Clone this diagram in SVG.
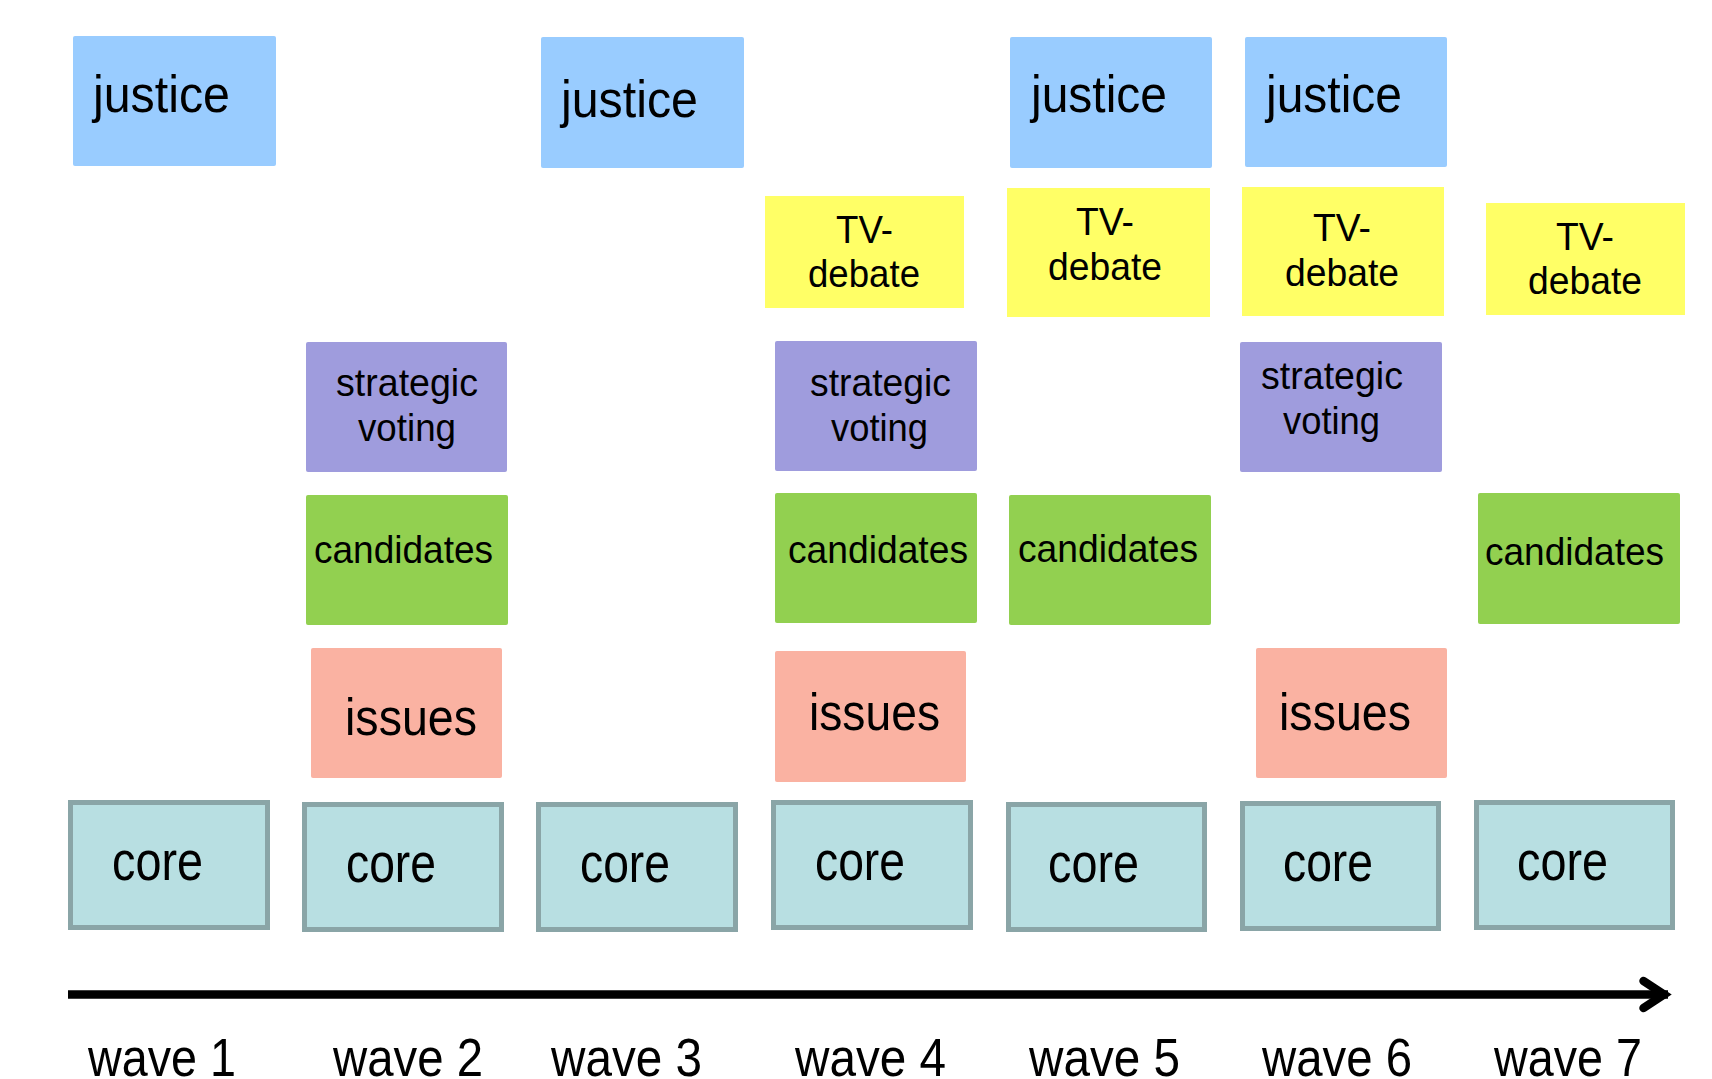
<svg xmlns="http://www.w3.org/2000/svg" width="1712" height="1079" viewBox="0 0 1712 1079">
<style>
  .box { stroke: none; }
  .justice { fill: #99CCFF; }
  .tv { fill: #FFFF66; }
  .strat { fill: #9F9CDD; }
  .cand { fill: #92D050; }
  .issues { fill: #FAB2A2; }
  .core { fill: #B8DFE2; stroke: #8AA5A7; stroke-width: 5; }
  text { font-family: "Liberation Sans", Arial, Helvetica, sans-serif; fill: #000; }
  .big { font-size: 52px; }
  .core-t { font-size: 56px; }
  .mid { font-size: 39px; }
  .wave { font-size: 53px; }
  .axis { stroke: #000; stroke-width: 8.5; fill: none; }
</style>
<rect width="1712" height="1079" fill="#FFFFFF"/>

<g id="justice-1"><rect class="box justice" x="73" y="36" width="203" height="130" rx="2"/><text class="big" x="93" y="112" textLength="137" lengthAdjust="spacingAndGlyphs">justice</text></g>
<g id="justice-3"><rect class="box justice" x="541" y="37" width="203" height="131" rx="2"/><text class="big" x="561" y="117" textLength="137" lengthAdjust="spacingAndGlyphs">justice</text></g>
<g id="justice-5"><rect class="box justice" x="1010" y="37" width="202" height="131" rx="2"/><text class="big" x="1031" y="112" textLength="136" lengthAdjust="spacingAndGlyphs">justice</text></g>
<g id="justice-6"><rect class="box justice" x="1245" y="37" width="202" height="130" rx="2"/><text class="big" x="1266" y="112" textLength="136" lengthAdjust="spacingAndGlyphs">justice</text></g>

<g id="tv-4"><rect class="box tv" x="765" y="196" width="199" height="112"/><text class="mid" x="836" y="243" textLength="57" lengthAdjust="spacingAndGlyphs">TV-</text><text class="mid" x="808" y="287" textLength="112" lengthAdjust="spacingAndGlyphs">debate</text></g>
<g id="tv-5"><rect class="box tv" x="1007" y="188" width="203" height="129"/><text class="mid" x="1076" y="235" textLength="58" lengthAdjust="spacingAndGlyphs">TV-</text><text class="mid" x="1048" y="280" textLength="114" lengthAdjust="spacingAndGlyphs">debate</text></g>
<g id="tv-6"><rect class="box tv" x="1242" y="187" width="202" height="129"/><text class="mid" x="1313" y="241" textLength="58" lengthAdjust="spacingAndGlyphs">TV-</text><text class="mid" x="1285" y="286" textLength="114" lengthAdjust="spacingAndGlyphs">debate</text></g>
<g id="tv-7"><rect class="box tv" x="1486" y="203" width="199" height="112"/><text class="mid" x="1556" y="250" textLength="58" lengthAdjust="spacingAndGlyphs">TV-</text><text class="mid" x="1528" y="294" textLength="114" lengthAdjust="spacingAndGlyphs">debate</text></g>

<g id="strategic-2"><rect class="box strat" x="306" y="342" width="201" height="130" rx="2"/><text class="mid" x="336" y="396" textLength="142" lengthAdjust="spacingAndGlyphs">strategic</text><text class="mid" x="358" y="441" textLength="98" lengthAdjust="spacingAndGlyphs">voting</text></g>
<g id="strategic-4"><rect class="box strat" x="775" y="341" width="202" height="130" rx="2"/><text class="mid" x="810" y="396" textLength="141" lengthAdjust="spacingAndGlyphs">strategic</text><text class="mid" x="831" y="441" textLength="97" lengthAdjust="spacingAndGlyphs">voting</text></g>
<g id="strategic-6"><rect class="box strat" x="1240" y="342" width="202" height="130" rx="2"/><text class="mid" x="1261" y="389" textLength="142" lengthAdjust="spacingAndGlyphs">strategic</text><text class="mid" x="1283" y="434" textLength="97" lengthAdjust="spacingAndGlyphs">voting</text></g>

<g id="candidates-2"><rect class="box cand" x="306" y="495" width="202" height="130" rx="2"/><text class="mid" x="314" y="563" textLength="179" lengthAdjust="spacingAndGlyphs">candidates</text></g>
<g id="candidates-4"><rect class="box cand" x="775" y="493" width="202" height="130" rx="2"/><text class="mid" x="788" y="563" textLength="180" lengthAdjust="spacingAndGlyphs">candidates</text></g>
<g id="candidates-5"><rect class="box cand" x="1009" y="495" width="202" height="130" rx="2"/><text class="mid" x="1018" y="562" textLength="180" lengthAdjust="spacingAndGlyphs">candidates</text></g>
<g id="candidates-7"><rect class="box cand" x="1478" y="493" width="202" height="131" rx="2"/><text class="mid" x="1485" y="565" textLength="179" lengthAdjust="spacingAndGlyphs">candidates</text></g>

<g id="issues-2"><rect class="box issues" x="311" y="648" width="191" height="130" rx="2"/><text class="big" x="345" y="735" textLength="132" lengthAdjust="spacingAndGlyphs">issues</text></g>
<g id="issues-4"><rect class="box issues" x="775" y="651" width="191" height="131" rx="2"/><text class="big" x="809" y="730" textLength="131" lengthAdjust="spacingAndGlyphs">issues</text></g>
<g id="issues-6"><rect class="box issues" x="1256" y="648" width="191" height="130" rx="2"/><text class="big" x="1279" y="730" textLength="132" lengthAdjust="spacingAndGlyphs">issues</text></g>

<g id="core-1"><rect class="core" x="70.5" y="802.5" width="197" height="125"/><text class="core-t" x="112" y="879.5" textLength="91" lengthAdjust="spacingAndGlyphs">core</text></g>
<g id="core-2"><rect class="core" x="304.5" y="804.5" width="197" height="125"/><text class="core-t" x="346" y="882" textLength="90" lengthAdjust="spacingAndGlyphs">core</text></g>
<g id="core-3"><rect class="core" x="538.5" y="804.5" width="197" height="125"/><text class="core-t" x="580" y="882" textLength="90" lengthAdjust="spacingAndGlyphs">core</text></g>
<g id="core-4"><rect class="core" x="773.5" y="802.5" width="197" height="125"/><text class="core-t" x="815" y="879.5" textLength="90" lengthAdjust="spacingAndGlyphs">core</text></g>
<g id="core-5"><rect class="core" x="1008.5" y="804.5" width="196" height="125"/><text class="core-t" x="1048" y="881.5" textLength="91" lengthAdjust="spacingAndGlyphs">core</text></g>
<g id="core-6"><rect class="core" x="1242.5" y="803.5" width="196" height="125"/><text class="core-t" x="1283" y="880.5" textLength="90" lengthAdjust="spacingAndGlyphs">core</text></g>
<g id="core-7"><rect class="core" x="1476.5" y="802.5" width="196" height="125"/><text class="core-t" x="1517" y="880" textLength="91" lengthAdjust="spacingAndGlyphs">core</text></g>

<g id="connectors">
  <line class="axis" x1="68" y1="994.5" x2="1668" y2="994.5"/>
  <polyline class="axis" points="1643.5,981 1664,994.5 1643.5,1008" stroke-linecap="round" stroke-linejoin="miter"/>
</g>

<g id="wave-labels">
  <text class="wave" x="88" y="1076" textLength="148" lengthAdjust="spacingAndGlyphs">wave 1</text>
  <text class="wave" x="333" y="1076" textLength="150" lengthAdjust="spacingAndGlyphs">wave 2</text>
  <text class="wave" x="551" y="1076" textLength="151" lengthAdjust="spacingAndGlyphs">wave 3</text>
  <text class="wave" x="795" y="1076" textLength="151" lengthAdjust="spacingAndGlyphs">wave 4</text>
  <text class="wave" x="1029" y="1076" textLength="151" lengthAdjust="spacingAndGlyphs">wave 5</text>
  <text class="wave" x="1262" y="1076" textLength="150" lengthAdjust="spacingAndGlyphs">wave 6</text>
  <text class="wave" x="1494" y="1076" textLength="148" lengthAdjust="spacingAndGlyphs">wave 7</text>
</g>
</svg>
